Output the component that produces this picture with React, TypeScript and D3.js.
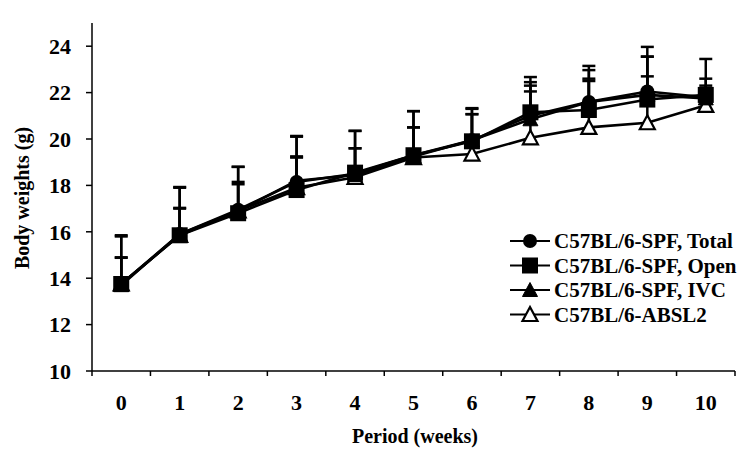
import React from "react";
import * as d3 from "d3";

const weeks = ["0", "1", "2", "3", "4", "5", "6", "7", "8", "9", "10"];
const yTicks = [10, 12, 14, 16, 18, 20, 22, 24];

const seriesNames = ["C57BL/6-SPF, Total", "C57BL/6-SPF, Open", "C57BL/6-SPF, IVC", "C57BL/6-ABSL2"];

const totalMean = [13.75, 15.9, 16.95, 18.15, 18.5, 19.3, 19.95, 21.0, 21.6, 22.05, 21.8];
const openMean = [13.75, 15.85, 16.8, 17.8, 18.55, 19.3, 19.9, 21.15, 21.25, 21.7, 21.9];
const ivcMean = [13.7, 15.9, 16.9, 18.2, 18.45, 19.25, 19.95, 20.85, 21.6, 21.9, 21.75];
const absl2Mean = [13.75, 15.85, 16.9, 17.9, 18.35, 19.2, 19.35, 20.05, 20.5, 20.7, 21.45];

const totalUpper = [14.88, 17.03, 18.15, 19.2, 19.6, 20.5, 21.07, 22.3, 22.6, 23.55, 22.6];
const openUpper = [15.85, 17.93, 18.8, 20.13, 20.35, 21.2, 21.33, 22.67, 23.15, 23.97, 23.45];
const ivcUpper = [14.9, 17.0, 18.05, 19.25, 19.6, 20.5, 21.07, 22.05, 22.5, 22.7, 22.3];
const absl2Upper = [15.8, 17.9, 18.8, 20.1, 20.35, 21.2, 21.3, 22.45, 22.97, 23.55, 22.1];

const means = [totalMean, openMean, ivcMean, absl2Mean];
const uppers = [totalUpper, openUpper, ivcUpper, absl2Upper];
const markers = ["circle", "square", "triangle", "openTriangle"];
// drawing order (bottom to top): ABSL2, Total, IVC, Open
const drawOrder = [3, 0, 2, 1];

const FONT = "'Liberation Serif', 'Times New Roman', serif";

function Marker({ type, x, y }: { type: string; x: number; y: number }) {
  if (type === "circle") return <circle cx={x} cy={y} r={7} fill="#000" />;
  if (type === "square") return <rect x={x - 8} y={y - 8} width={16} height={16} fill="#000" />;
  const h = 13;
  const w = 15;
  const pts = `${x},${y - h / 2 - 1} ${x + w / 2},${y + h / 2} ${x - w / 2},${y + h / 2}`;
  if (type === "triangle") return <polygon points={pts} fill="#000" stroke="#000" strokeWidth={1} />;
  return <polygon points={pts} fill="#fff" stroke="#000" strokeWidth={2.2} strokeLinejoin="miter" />;
}

export default function App() {
  const W = 752;
  const H = 451;
  const x = d3.scaleBand<string>().domain(weeks).range([92, 735]).padding(0);
  const y = d3.scaleLinear().domain([10, 25]).range([371, 23]);
  const cx = (w: string) => (x(w) as number) + x.bandwidth() / 2;
  const line = d3
    .line<number>()
    .x((_, i) => cx(weeks[i]))
    .y((d) => y(d));

  return (
    <svg width={W} height={H} style={{ position: "absolute", left: 0, top: 0, background: "#fff" }}>
      <rect x={0} y={0} width={W} height={H} fill="#fff" />
      {/* axes */}
      <line x1={92} x2={92} y1={y(25)} y2={y(10)} stroke="#000" strokeWidth={1.5} />
      <line x1={92} x2={735} y1={y(10)} y2={y(10)} stroke="#000" strokeWidth={1.5} />
      {yTicks.map((t) => (
        <g key={"y" + t}>
          <line x1={86} x2={92} y1={y(t)} y2={y(t)} stroke="#000" strokeWidth={1.5} />
          <text x={71} y={y(t)} dy="0.35em" textAnchor="end" fontFamily={FONT} fontWeight="bold" fontSize={22}>
            {t}
          </text>
        </g>
      ))}
      {[...weeks.map((w) => x(w) as number), 735].map((v, i) => (
        <line key={"xt" + i} x1={v} x2={v} y1={y(10)} y2={y(10) + 5} stroke="#000" strokeWidth={1.5} />
      ))}
      {weeks.map((w) => (
        <text key={"xl" + w} x={cx(w)} y={410} textAnchor="middle" fontFamily={FONT} fontWeight="bold" fontSize={22}>
          {w}
        </text>
      ))}
      <text x={415} y={443} textAnchor="middle" fontFamily={FONT} fontWeight="bold" fontSize={20}>
        Period (weeks)
      </text>
      <text
        transform={`translate(29,198) rotate(-90)`}
        textAnchor="middle"
        fontFamily={FONT}
        fontWeight="bold"
        fontSize={20}
      >
        Body weights (g)
      </text>

      {/* series */}
      {drawOrder.map((si) => {
        const m = means[si];
        return (
          <g key={"s" + si}>
            {m.map((v, i) => {
              const px = cx(weeks[i]);
              const top = uppers[si][i];
              return (
                <g key={"e" + i}>
                  <line x1={px} x2={px} y1={y(v)} y2={y(top)} stroke="#000" strokeWidth={2.5} />
                  <line x1={px - 6.5} x2={px + 6.5} y1={y(top)} y2={y(top)} stroke="#000" strokeWidth={2.5} />
                </g>
              );
            })}
            <path d={line(m) as string} fill="none" stroke="#000" strokeWidth={2.6} />
            {m.map((v, i) => (
              <Marker key={"m" + i} type={markers[si]} x={cx(weeks[i])} y={y(v)} />
            ))}
          </g>
        );
      })}

      {/* legend */}
      {seriesNames.map((n, i) => {
        const ly = 241 + i * 24.5;
        return (
          <g key={"lg" + i}>
            <line x1={510} x2={550} y1={ly} y2={ly} stroke="#000" strokeWidth={2} />
            <Marker type={markers[i]} x={530} y={ly} />
            <text x={554} y={ly + 7} fontFamily={FONT} fontWeight="bold" fontSize={21}>
              {n}
            </text>
          </g>
        );
      })}
    </svg>
  );
}
